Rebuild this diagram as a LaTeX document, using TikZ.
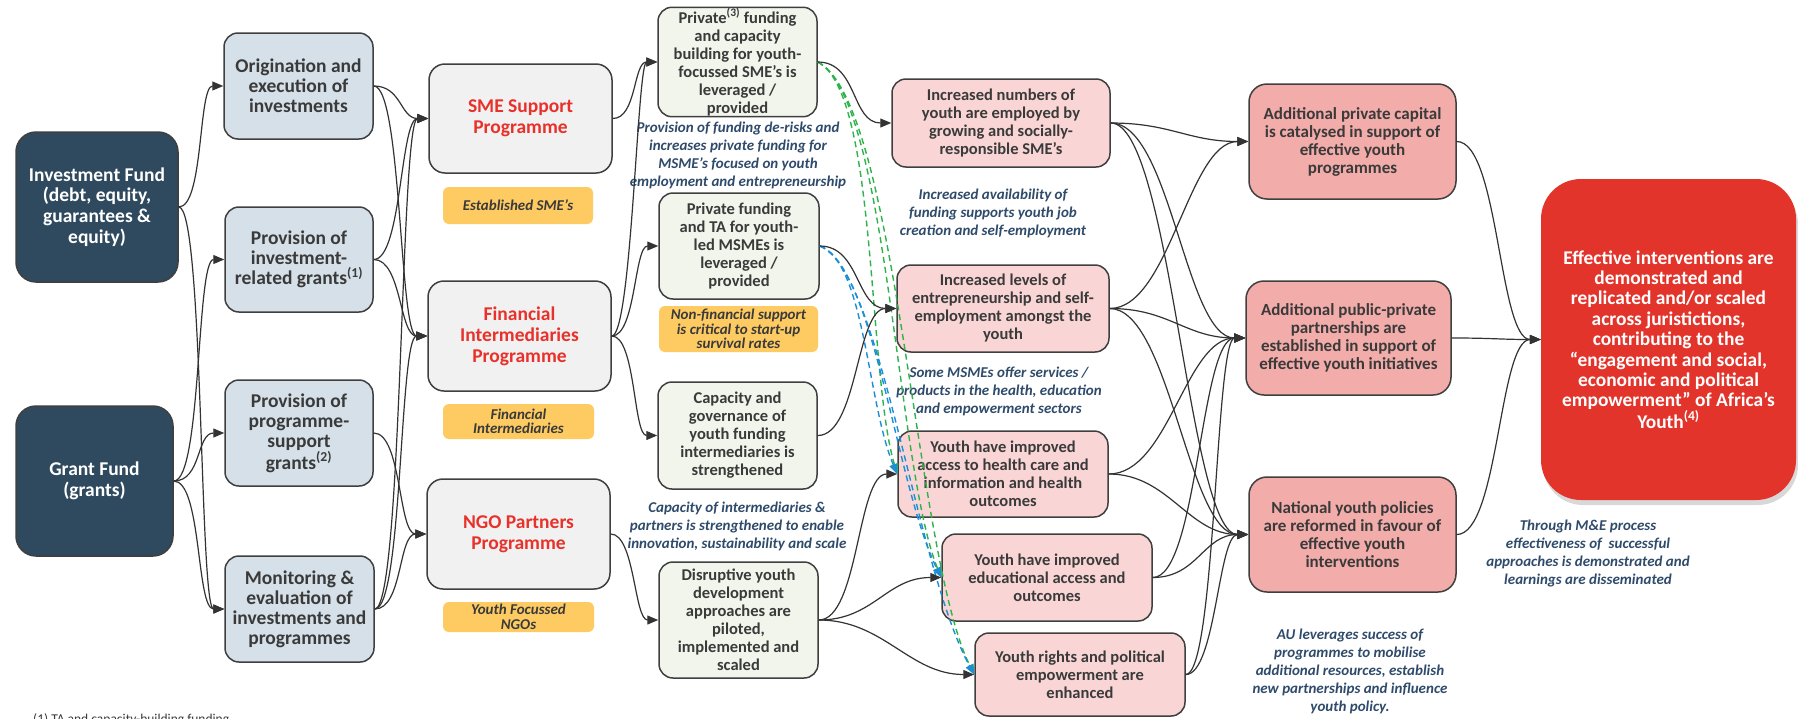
\documentclass[tikz,border=0pt]{standalone}
\usepackage{fontspec}
\setmainfont{Carlito}
\usetikzlibrary{arrows.meta,shadows}
\definecolor{navyc}{HTML}{2F4A5F}
\definecolor{lblue}{HTML}{D5E0E8}
\definecolor{progc}{HTML}{F1F1F1}
\definecolor{tagc}{HTML}{FECB63}
\definecolor{outc}{HTML}{F2F5EC}
\definecolor{pinkc}{HTML}{F9D6D5}
\definecolor{salmc}{HTML}{F2ACA9}
\definecolor{goalc}{HTML}{E3342B}
\definecolor{redt}{HTML}{E8312A}
\definecolor{notec}{HTML}{2F4B6B}
\definecolor{txtc}{HTML}{3A3A3A}
\definecolor{bordc}{HTML}{3F3F3F}
\definecolor{linec}{HTML}{333333}
\definecolor{dgreen}{HTML}{2DB34A}
\definecolor{dblue}{HTML}{1B8FD6}
\begin{document}
\begin{tikzpicture}[x=1pt,y=-1pt,
  box/.style={draw=bordc, line width=1.5pt, rounded corners=14pt, align=center, text=txtc, inner sep=1pt,
    font=\bfseries\fontsize{16.5}{18}\selectfont},
  srcbox/.style={box, fill=navyc, text=white, rounded corners=20pt, font=\bfseries\fontsize{19.5}{20.7}\selectfont},
  actbox/.style={box, fill=lblue, font=\bfseries\fontsize{19.5}{20}\selectfont},
  progbox/.style={box, fill=progc, text=redt, rounded corners=16pt, font=\bfseries\fontsize{19.5}{21}\selectfont},
  outbox/.style={box, fill=outc},
  pinkbox/.style={box, fill=pinkc},
  salmbox/.style={box, fill=salmc, rounded corners=18pt, font=\bfseries\fontsize{17}{18}\selectfont},
  tagbox/.style={fill=tagc, rounded corners=6pt, align=center, text=txtc, inner sep=1pt,
    font=\bfseries\itshape\fontsize{15}{14.5}\selectfont},
  notetext/.style={align=center, text=notec, inner sep=0pt, font=\bfseries\itshape\fontsize{15}{18}\selectfont},
  arr/.style={draw=linec, line width=1.2pt, -{Triangle[length=11pt,width=9pt]}},
  sc/.style={out=0, in=180, distance=#1},
  gdash/.style={draw=dgreen, line width=1.4pt, dash pattern=on 6pt off 4pt, -{Triangle[length=10pt,width=8pt,fill=dgreen]}},
  bdash/.style={draw=dblue, line width=1.4pt, dash pattern=on 6pt off 4pt, -{Triangle[length=10pt,width=8pt,fill=dblue]}}
]
\fill[white] (0,0) rectangle (1798,718);
\useasboundingbox (0,0) rectangle (1798,718);

% column 1
\node[srcbox, minimum width=162pt, minimum height=150pt] (invf) at (97,207) {Investment Fund\\(debt, equity,\\guarantees \&\\equity)};
\node[srcbox, minimum width=157pt, minimum height=150pt] (grantf) at (94.5,481) {Grant Fund\\(grants)};

% column 2
\node[actbox, minimum width=149pt, minimum height=106pt] (orig) at (298.5,86) {Origination and\\execution of\\investments};
\node[actbox, minimum width=148pt, minimum height=105pt] (provinv) at (299,259.5) {Provision of\\investment-\\related grants\textsuperscript{(1)}};
\node[actbox, minimum width=148pt, minimum height=106pt] (provprog) at (299,433) {Provision of\\programme-\\support\\grants\textsuperscript{(2)}};
\node[actbox, minimum width=149pt, minimum height=106pt] (monit) at (299.5,609) {Monitoring \&\\evaluation of\\investments and\\programmes};

% column 3
\node[progbox, minimum width=183pt, minimum height=109pt] (sme) at (520.5,118.5) {SME Support\\Programme};
\node[progbox, minimum width=183pt, minimum height=110pt] (finint) at (519.5,336) {Financial\\Intermediaries\\Programme};
\node[progbox, minimum width=183pt, minimum height=110pt] (ngo) at (518.5,534) {NGO Partners\\Programme};
\node[tagbox, minimum width=150pt, minimum height=37pt] (tag1) at (518,205.5) {Established SME’s};
\node[tagbox, minimum width=151pt, minimum height=35pt] (tag2) at (518.5,421.5) {Financial\\Intermediaries};
\node[tagbox, minimum width=151pt, minimum height=30pt] (tag3) at (518.5,617) {Youth Focussed\\NGOs};

% column 4
\node[outbox, minimum width=159pt, minimum height=106pt] (priv3) at (737.5,62) {Private\textsuperscript{(3)} funding\\and capacity\\building for youth-\\focussed SME’s is\\leveraged /\\provided};
\node[outbox, minimum width=160pt, minimum height=106pt] (privta) at (739,246) {Private funding\\and TA for youth-\\led MSMEs is\\leveraged /\\provided};
\node[tagbox, minimum width=159pt, minimum height=46pt] (tag4) at (738.5,329) {Non-financial support\\is critical to start-up\\survival rates};
\node[outbox, minimum width=159pt, minimum height=107pt] (capgov) at (737.5,435.5) {Capacity and\\governance of\\youth funding\\intermediaries is\\strengthened};
\node[outbox, minimum width=159pt, minimum height=116pt] (disrupt) at (738.5,620) {Disruptive youth\\development\\approaches are\\piloted,\\implemented and\\scaled};

% column 5
\node[pinkbox, minimum width=218pt, minimum height=88pt] (incnum) at (1001,123) {Increased numbers of\\youth are employed by\\growing and socially-\\responsible SME’s};
\node[pinkbox, minimum width=212pt, minimum height=87pt] (inclev) at (1003,308.5) {Increased levels of\\entrepreneurship and self-\\employment amongst the\\youth};
\node[pinkbox, minimum width=210pt, minimum height=86pt] (health) at (1003,474) {Youth have improved\\access to health care and\\information and health\\outcomes};
\node[pinkbox, minimum width=210pt, minimum height=87pt] (educ) at (1047,577.5) {Youth have improved\\educational access and\\outcomes};
\node[pinkbox, minimum width=210pt, minimum height=83pt] (rights) at (1080,674.5) {Youth rights and political\\empowerment are\\enhanced};

% column 6
\node[salmbox, minimum width=207pt, minimum height=115pt] (apc) at (1352.5,141.5) {Additional private capital\\is catalysed in support of\\effective youth\\programmes};
\node[salmbox, minimum width=205pt, minimum height=114pt] (ppp) at (1348.5,338) {Additional public-private\\partnerships are\\established in support of\\effective youth initiatives};
\node[salmbox, minimum width=207pt, minimum height=115pt] (natl) at (1352.5,534.5) {National youth policies\\are reformed in favour of\\effective youth\\interventions};

% goal
\node[fill=goalc, rounded corners=40pt, align=center, text=white, inner sep=0pt,
  minimum width=255pt, minimum height=321pt,
  drop shadow={shadow xshift=2pt, shadow yshift=-5pt, opacity=0.3},
  font=\bfseries\fontsize{19.4}{20.4}\selectfont] (goal) at (1668.5,339.5)
  {Effective interventions are\\demonstrated and\\replicated and/or scaled\\across juristictions,\\contributing to the\\“engagement and social,\\economic and political\\empowerment” of Africa’s\\Youth\textsuperscript{(4)}};

% annotations
\node[notetext] (n1) at (738,155) {Provision of funding de-risks and\\increases private funding for\\MSME’s focused on youth\\employment and entrepreneurship};
\node[notetext] (n2) at (737,526) {Capacity of intermediaries \&\\partners is strengthened to enable\\innovation, sustainability and scale};
\node[notetext] (n3) at (993,213) {Increased availability of\\funding supports youth job\\creation and self-employment};
\node[notetext] (n4) at (999,391) {Some MSMEs offer services /\\products in the health, education\\and empowerment sectors};
\node[notetext] (n5) at (1350,671) {AU leverages success of\\programmes to mobilise\\additional resources, establish\\new partnerships and influence\\youth policy.};
\node[notetext] (n6) at (1588,553) {Through M\&E process\\effectiveness of\ \ successful\\approaches is demonstrated and\\learnings are disseminated};

\node[anchor=base west, inner sep=0pt, text=txtc, font=\fontsize{13.5}{16}\selectfont] (fn) at (33,723) {(1) TA and capacity-building funding};

% connectors col1 -> col2
\draw[arr] (invf.east) to[sc=25pt] (orig.west);
\draw[arr] (invf.east) to[sc=25pt] (monit.west);
\draw[arr] (grantf.east) to[sc=28pt] (provinv.west);
\draw[arr] (grantf.east) to[sc=28pt] (provprog.west);
\draw[arr] (grantf.east) to[sc=28pt] (monit.west);

% col2 -> col3
\draw[arr] (orig.east) to[sc=28pt] (sme.west);
\draw[arr] (orig.east) to[sc=28pt] (finint.west);
\draw[arr] (provinv.east) to[sc=28pt] (sme.west);
\draw[arr] (provinv.east) to[sc=28pt] (finint.west);
\draw[arr] (provprog.east) to[sc=28pt] (ngo.west);
\draw[arr] (monit.east) to[sc=28pt] (sme.west);
\draw[arr] (monit.east) to[sc=28pt] (finint.west);
\draw[arr] (monit.east) to[sc=28pt] (ngo.west);

% col3 -> col4
\draw[arr] (sme.east) to[sc=24pt] (priv3.west);
\draw[arr] (finint.east) to[sc=20pt] (priv3.west);
\draw[arr] (finint.east) to[sc=24pt] (privta.west);
\draw[arr] (finint.east) to[sc=24pt] (capgov.west);
\draw[arr] (ngo.east) to[sc=24pt] (disrupt.west);

% dashed connectors
\draw[gdash] (priv3.east) .. controls +(60,30) and +(-30,-100) .. (health.west);
\draw[gdash] (priv3.east) .. controls +(70,35) and +(-45,-110) .. (educ.west);
\draw[gdash] (priv3.east) .. controls +(80,40) and +(-60,-120) .. (rights.west);
\draw[bdash] (privta.east) .. controls +(45,15) and +(-30,-70) .. (health.west);
\draw[bdash] (privta.east) .. controls +(55,20) and +(-45,-90) .. (educ.west);
\draw[bdash] (privta.east) .. controls +(62,25) and +(-60,-110) .. (rights.west);

% col4 -> col5
\draw[arr] (priv3.east) to[sc=40pt] (incnum.west);
\draw[arr] (privta.east) to[sc=40pt] (inclev.west);
\draw[arr] (capgov.east) to[sc=40pt] (inclev.west);
\draw[arr] (disrupt.east) to[sc=40pt] (health.west);
\draw[arr] (disrupt.east) to[sc=55pt] (educ.west);
\draw[arr] (disrupt.east) to[sc=65pt] (rights.west);

% col5 -> col6
\draw[arr] (incnum.east) to[sc=60pt] (apc.west);
\draw[arr] (incnum.east) to[sc=60pt] (ppp.west);
\draw[arr] (incnum.east) to[sc=60pt] (natl.west);
\draw[arr] (inclev.east) to[sc=60pt] (apc.west);
\draw[arr] (inclev.east) to[sc=60pt] (ppp.west);
\draw[arr] (inclev.east) to[sc=60pt] (natl.west);
\draw[arr] (health.east) to[sc=60pt] (ppp.west);
\draw[arr] (health.east) to[sc=60pt] (natl.west);
\draw[arr] (educ.east) to[sc=45pt] (ppp.west);
\draw[arr] (educ.east) to[sc=45pt] (natl.west);
\draw[arr] (rights.east) to[sc=30pt] (ppp.west);
\draw[arr] (rights.east) to[sc=30pt] (natl.west);

% col6 -> goal
\draw[arr] (apc.east) to[sc=42pt] (goal.west);
\draw[arr] (ppp.east) to[sc=42pt] (goal.west);
\draw[arr] (natl.east) to[sc=42pt] (goal.west);
\end{tikzpicture}
\end{document}
